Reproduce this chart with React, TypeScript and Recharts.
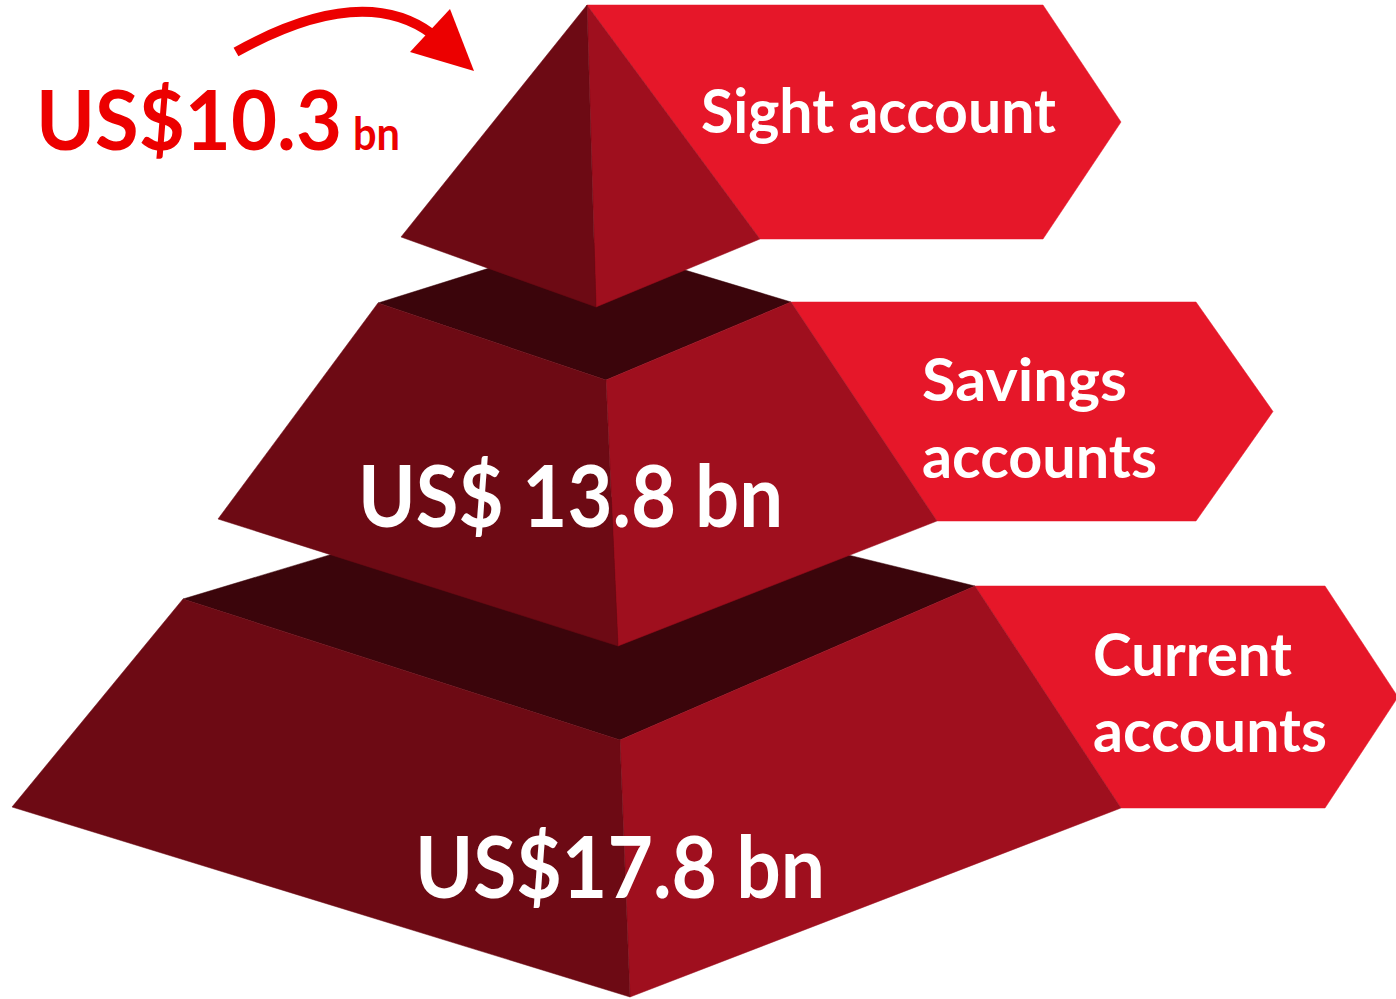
import React from "react";
import { ComposedChart, XAxis, YAxis, ReferenceArea, ReferenceDot } from "recharts";

// deposit mix, three tiers from top to bottom
const categories = ["Sight account", "Savings accounts", "Current accounts"];
const values = [10.3, 13.8, 17.8];
const currency = "US$";
const unit = "bn";
const currencyGap = ["", " ", ""];

const W = 1396;
const H = 999;

const LEFT_FACE = "#6D0A14";
const RIGHT_FACE = "#9F0F1E";
const TOP_FACE = "#3B050B";
const BANNER = "#E61729";
const ACCENT = "#EC0000";
const FONT = "Lato, 'Open Sans', sans-serif";

type P = [number, number];

// drawing layout of each tier (chart units = pixels of the drawing)
const TIERS: {
  top: { l: P; b: P; r: P; f: P };
  bottom: { l: P; f: P; r: P };
  bannerEnd: number;
  tip: number;
}[] = [
  {
    top: { l: [587, 5], b: [587, 5], r: [587, 5], f: [587, 5] },
    bottom: { l: [401, 237], f: [596, 307], r: [760, 239] },
    bannerEnd: 1043,
    tip: 78,
  },
  {
    top: { l: [378, 303], b: [582, 239], r: [791, 302], f: [606, 380] },
    bottom: { l: [218, 519], f: [618, 646], r: [937, 521] },
    bannerEnd: 1196,
    tip: 77,
  },
  {
    top: { l: [183, 599], b: [562, 485], r: [975, 586], f: [620, 740] },
    bottom: { l: [12, 807], f: [630, 997], r: [1121, 808] },
    bannerEnd: 1325,
    tip: 73,
  },
];

const VALUE_TEXT = [
  { x: 36, y: 150, size: 82, width: 306, fill: ACCENT, unitX: 353, unitSize: 46, unitWidth: 47 },
  { x: 358, y: 527, size: 86, width: 425, fill: "#fff" },
  { x: 415, y: 898, size: 86, width: 410, fill: "#fff" },
];

const CATEGORY_TEXT = [
  { x: 701, lines: [133], size: 62, widths: [355] },
  { x: 922, lines: [401, 478], size: 60, widths: [205, 235] },
  { x: 1093, lines: [676, 752], size: 60, widths: [199, 234] },
];

const bbox = (pts: P[]) => {
  const xs = pts.map((p) => p[0]);
  const ys = pts.map((p) => p[1]);
  return { x1: Math.min(...xs), x2: Math.max(...xs), y1: Math.min(...ys), y2: Math.max(...ys) };
};

// ReferenceArea gives the scaled box; vertices are placed inside it linearly
function PolyArea({ pts, fill, k }: { pts: P[]; fill: string; k: string }) {
  const b = bbox(pts);
  return (
    <ReferenceArea
      key={k}
      x1={b.x1}
      x2={b.x2}
      y1={b.y1}
      y2={b.y2}
      ifOverflow="visible"
      shape={(props: any) => {
        const sx = (v: number) => props.x + ((v - b.x1) / (b.x2 - b.x1)) * props.width;
        const sy = (v: number) => props.y + ((v - b.y1) / (b.y2 - b.y1)) * props.height;
        const d = pts.map((p) => `${sx(p[0])},${sy(p[1])}`).join(" ");
        return <polygon points={d} fill={fill} stroke={fill} strokeWidth={0.5} />;
      }}
    />
  );
}

function label(x: number, y: number, text: string, size: number, width: number, fill: string, key: string) {
  return (
    <ReferenceDot
      key={key}
      x={x}
      y={y}
      r={0}
      ifOverflow="visible"
      shape={(p: any) => (
        <text
          x={p.cx}
          y={p.cy}
          fill={fill}
          fontFamily={FONT}
          fontWeight={700}
          fontSize={size}
          textLength={width}
          lengthAdjust="spacingAndGlyphs"
        >
          {text}
        </text>
      )}
    />
  );
}

const ARROW_BOX = { x1: 228, x2: 476, y1: 0, y2: 76 };

export default function App() {
  const tierData = categories.map((name, i) => ({ name, value: values[i] }));

  const banners = TIERS.map((t, i) => {
    const tr = t.top.r;
    const br = t.bottom.r;
    const pts: P[] = [
      tr,
      [t.bannerEnd, tr[1]],
      [t.bannerEnd + t.tip, (tr[1] + br[1]) / 2],
      [t.bannerEnd, br[1]],
      br,
    ];
    return PolyArea({ pts, fill: BANNER, k: `banner-${i}` });
  });

  // bottom tier first so upper tiers overlap it
  const faces = [...TIERS]
    .map((t, i) => ({ t, i }))
    .reverse()
    .flatMap(({ t, i }) => [
      PolyArea({ pts: [t.top.l, t.top.b, t.top.r, t.top.f], fill: TOP_FACE, k: `top-${i}` }),
      PolyArea({ pts: [t.top.f, t.top.r, t.bottom.r, t.bottom.f], fill: RIGHT_FACE, k: `right-${i}` }),
      PolyArea({ pts: [t.top.l, t.top.f, t.bottom.f, t.bottom.l], fill: LEFT_FACE, k: `left-${i}` }),
    ]);

  const valueLabels = values.flatMap((v, i) => {
    const lay = VALUE_TEXT[i];
    const num = `${currency}${currencyGap[i]}${v.toFixed(1)}`;
    if (lay.unitX !== undefined) {
      // small unit set apart from the figure
      return [
        label(lay.x, lay.y, num, lay.size, lay.width, lay.fill, `val-${i}`),
        label(lay.unitX, lay.y, unit, lay.unitSize!, lay.unitWidth!, lay.fill, `unit-${i}`),
      ];
    }
    return [label(lay.x, lay.y, `${num} ${unit}`, lay.size, lay.width, lay.fill, `val-${i}`)];
  });

  const categoryLabels = categories.flatMap((c, i) => {
    const lay = CATEGORY_TEXT[i];
    const lines = lay.lines.length > 1 ? c.split(" ") : [c];
    return lines.map((line, j) => label(lay.x, lay.lines[j], line, lay.size, lay.widths[j], "#fff", `cat-${i}-${j}`));
  });

  return (
    <div style={{ position: "absolute", left: 0, top: 0, width: W, height: H, background: "#fff" }}>
      <ComposedChart width={W} height={H} data={tierData} margin={{ top: 0, right: 0, bottom: 0, left: 0 }}>
        <XAxis type="number" dataKey="value" domain={[0, W]} allowDataOverflow hide />
        <YAxis type="number" domain={[0, H]} allowDataOverflow reversed hide />
        {banners}
        {faces}
        <ReferenceArea
          x1={ARROW_BOX.x1}
          x2={ARROW_BOX.x2}
          y1={ARROW_BOX.y1}
          y2={ARROW_BOX.y2}
          ifOverflow="visible"
          shape={(props: any) => {
            const b = ARROW_BOX;
            const sx = (v: number) => props.x + ((v - b.x1) / (b.x2 - b.x1)) * props.width;
            const sy = (v: number) => props.y + ((v - b.y1) / (b.y2 - b.y1)) * props.height;
            return (
              <g>
                <path
                  d={`M${sx(236)},${sy(52)} Q${sx(362)},${sy(-18)} ${sx(432)},${sy(34)}`}
                  fill="none"
                  stroke={ACCENT}
                  strokeWidth={10}
                />
                <polygon
                  points={`${sx(450)},${sy(9)} ${sx(474)},${sy(71)} ${sx(410)},${sy(52)}`}
                  fill={ACCENT}
                />
              </g>
            );
          }}
        />
        {valueLabels}
        {categoryLabels}
      </ComposedChart>
    </div>
  );
}
